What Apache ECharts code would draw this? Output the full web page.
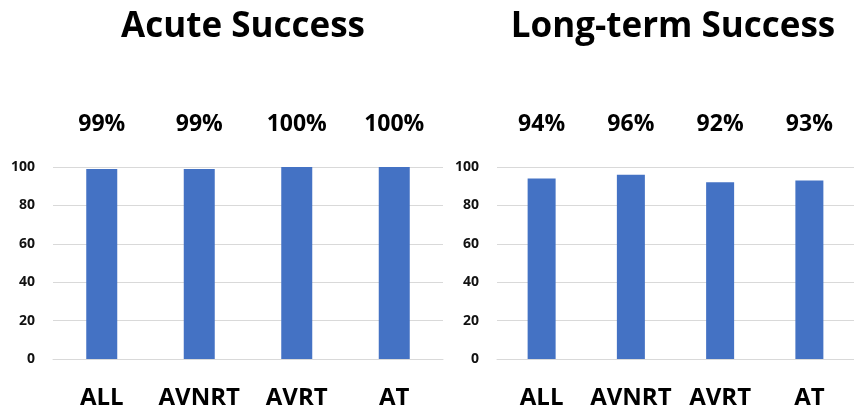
<!DOCTYPE html>
<html><head><meta charset="utf-8">
<script src="https://cdn.jsdelivr.net/npm/echarts@6/dist/echarts.min.js"></script>
<style>html,body{margin:0;padding:0;background:#fff}#c{width:854px;height:412px}</style>
</head><body><div id="c"></div>
<script>
const categories = ['ALL', 'AVNRT', 'AVRT', 'AT'];
const acuteValues = [99, 99, 100, 100];
const longTermValues = [94, 96, 92, 93];
const titles = ['Acute Success', 'Long-term Success'];
const yTicks = { min: 0, max: 100, interval: 20 };

const FONT = '"Open Sans", "Liberation Sans", sans-serif';
const BLUE = '#4472C4';
const GRID = '#d9d9d9';
const pct = arr => arr.map(v => v + '%');

const grids = [
  { left: 53, top: 167, width: 390, height: 192 },
  { left: 497, top: 167, width: 360, height: 192 }
];
const seriesData = [acuteValues, longTermValues];
const barWidths = [31, 28];

const chart = echarts.init(document.getElementById('c'), null, { renderer: 'canvas' });
const xAxis = [], yAxis = [], series = [];
grids.forEach((g, i) => {
  xAxis.push({
    type: 'category', gridIndex: i, data: categories, position: 'bottom',
    axisLine: { show: true, lineStyle: { color: GRID, width: 1 } },
    axisTick: { show: false },
    axisLabel: { interval: 0, hideOverlap: false, fontFamily: FONT, fontWeight: 'bold', fontSize: 24, color: '#000', margin: 27, lineHeight: 24 }
  });
  xAxis.push({
    type: 'category', gridIndex: i, data: pct(seriesData[i]), position: 'top',
    axisLine: { show: false }, axisTick: { show: false },
    axisLabel: { interval: 0, hideOverlap: false, fontFamily: FONT, fontWeight: 'bold', fontSize: 23, color: '#000', margin: 31, lineHeight: 23 }
  });
  yAxis.push({
    type: 'value', gridIndex: i, min: yTicks.min, max: yTicks.max, interval: yTicks.interval,
    axisLine: { show: false }, axisTick: { show: false },
    splitLine: { lineStyle: { color: GRID, width: 1 } },
    axisLabel: { fontFamily: FONT, fontWeight: 'bold', fontSize: 14, color: '#111', margin: 18 }
  });
  series.push({
    type: 'bar', xAxisIndex: i * 2, yAxisIndex: i, data: seriesData[i],
    barWidth: barWidths[i], itemStyle: { color: BLUE }, silent: true
  });
});

chart.setOption({
  animation: false,
  backgroundColor: '#fff',
  title: [
    { text: titles[0], left: 238, top: 5, textAlign: 'center',
      textStyle: { fontFamily: FONT, fontWeight: 'bold', fontSize: 35, color: '#000' } },
    { text: titles[1], left: 668, top: 5, textAlign: 'center',
      textStyle: { fontFamily: FONT, fontWeight: 'bold', fontSize: 35, color: '#000' } }
  ],
  grid: grids,
  xAxis, yAxis, series
});
</script>
</body></html>
